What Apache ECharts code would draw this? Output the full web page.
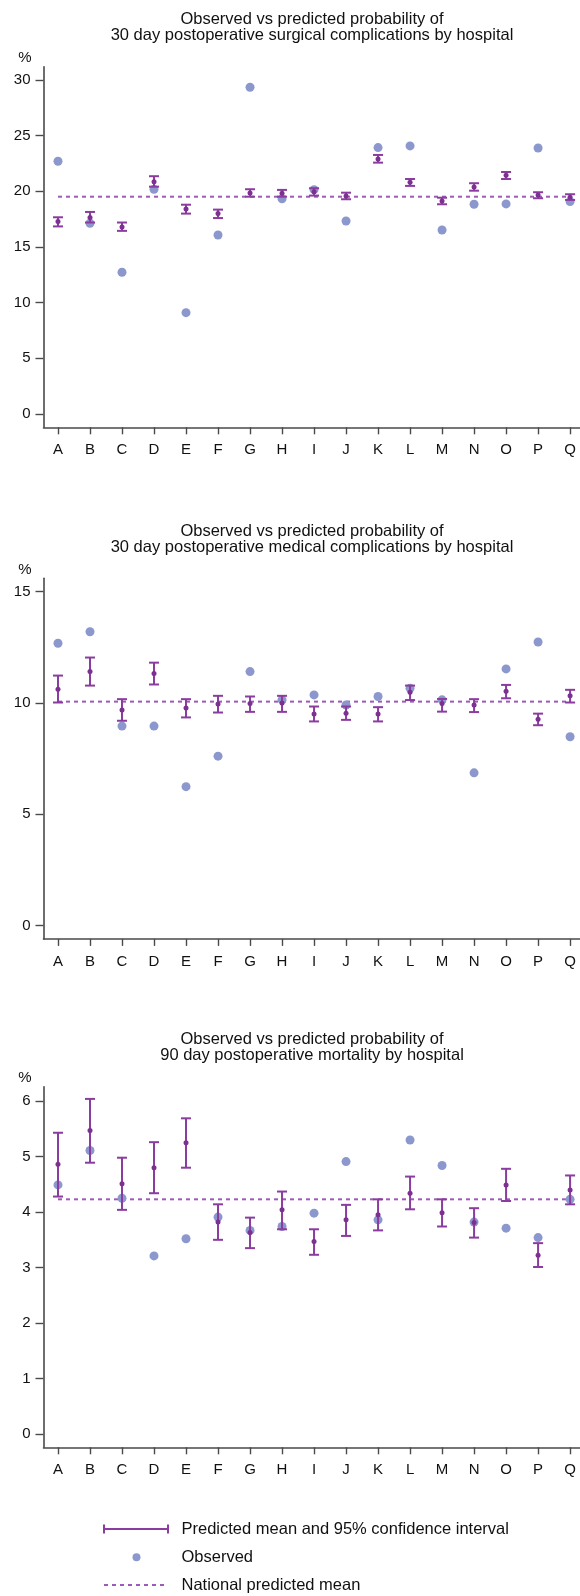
<!DOCTYPE html>
<html>
<head>
<meta charset="utf-8">
<script src="https://cdn.jsdelivr.net/npm/echarts@6/dist/echarts.min.js"></script>
<style>
html, body { margin: 0; padding: 0; background: #fff; }
#main { width: 580px; height: 1596px; }
</style>
</head>
<body>
<div id="main"></div>
<script>
// hospitals on the x axis
var hospitals = ['A', 'B', 'C', 'D', 'E', 'F', 'G', 'H', 'I', 'J', 'K', 'L', 'M', 'N', 'O', 'P', 'Q'];

// 30 day surgical complications (%)
var surgObserved  = [22.7, 17.13, 12.73, 20.19, 9.1, 16.08, 29.35, 19.34, 20.15, 17.34, 23.93, 24.08, 16.53, 18.84, 18.87, 23.9, 19.08];
var surgPredicted = [17.28, 17.65, 16.8, 20.87, 18.42, 18.0, 19.86, 19.83, 19.97, 19.59, 22.91, 20.82, 19.14, 20.4, 21.45, 19.68, 19.47];
var surgLower     = [16.85, 17.2, 16.45, 20.42, 18.0, 17.6, 19.52, 19.52, 19.62, 19.29, 22.58, 20.49, 18.84, 20.06, 21.11, 19.38, 19.23];
var surgUpper     = [17.67, 18.15, 17.2, 21.36, 18.8, 18.36, 20.19, 20.13, 20.28, 19.88, 23.27, 21.11, 19.43, 20.73, 21.74, 19.92, 19.74];
var surgNational  = 19.52;
var surgTicks     = [0, 5, 10, 15, 20, 25, 30];

// 30 day medical complications (%)
var medObserved  = [12.68, 13.2, 8.96, 8.96, 6.24, 7.61, 11.41, 10.14, 10.36, 9.91, 10.29, 10.66, 10.14, 6.86, 11.53, 12.74, 8.48];
var medPredicted = [10.62, 11.41, 9.68, 11.32, 9.77, 9.95, 9.97, 10.0, 9.5, 9.54, 9.5, 10.48, 9.97, 9.91, 10.53, 9.27, 10.32];
var medLower     = [10.02, 10.78, 9.2, 10.83, 9.35, 9.57, 9.6, 9.6, 9.17, 9.24, 9.17, 10.13, 9.61, 9.59, 10.21, 9.0, 10.02];
var medUpper     = [11.23, 12.04, 10.17, 11.81, 10.17, 10.32, 10.29, 10.32, 9.84, 9.84, 9.81, 10.78, 10.18, 10.17, 10.81, 9.52, 10.59];
var medNational  = 10.06;
var medTicks     = [0, 5, 10, 15];

// 90 day mortality (%)
var mortObserved  = [4.49, 5.11, 4.25, 3.21, 3.52, 3.91, 3.67, 3.74, 3.98, 4.91, 3.86, 5.3, 4.84, 3.82, 3.71, 3.54, 4.23];
var mortPredicted = [4.86, 5.47, 4.51, 4.8, 5.25, 3.82, 3.63, 4.04, 3.47, 3.86, 3.95, 4.34, 3.99, 3.81, 4.49, 3.22, 4.4];
var mortLower     = [4.28, 4.89, 4.04, 4.34, 4.8, 3.5, 3.35, 3.69, 3.23, 3.57, 3.67, 4.05, 3.74, 3.54, 4.2, 3.01, 4.14];
var mortUpper     = [5.43, 6.04, 4.98, 5.26, 5.69, 4.14, 3.9, 4.37, 3.69, 4.13, 4.23, 4.64, 4.23, 4.07, 4.78, 3.44, 4.66];
var mortNational  = 4.23;
var mortTicks     = [0, 1, 2, 3, 4, 5, 6];

var titles = [
  'Observed vs predicted probability of\n30 day postoperative surgical complications by hospital',
  'Observed vs predicted probability of\n30 day postoperative medical complications by hospital',
  'Observed vs predicted probability of\n90 day postoperative mortality by hospital'
];

var FONT = "'Liberation Sans', Arial, sans-serif";
var AXIS_COLOR = '#4a4a4a';
var CI_COLOR = '#8a3c9f';
var DOT_COLOR = '#7d2f92';
var OBS_COLOR = '#8c98cd';
var MEAN_COLOR = '#9d5ab6';

var positions = hospitals.map(function (h, i) { return i + 1; });

var panels = [
  { obs: surgObserved, pred: surgPredicted, lo: surgLower, hi: surgUpper, nat: surgNational, ticks: surgTicks, min: -1.2, max: 31.2, top: 66.7, titleTop: 11 },
  { obs: medObserved, pred: medPredicted, lo: medLower, hi: medUpper, nat: medNational, ticks: medTicks, min: -0.6, max: 15.6, top: 578.3, titleTop: 523 },
  { obs: mortObserved, pred: mortPredicted, lo: mortLower, hi: mortUpper, nat: mortNational, ticks: mortTicks, min: -0.24, max: 6.26, top: 1086.7, titleTop: 1031 }
];

function renderCI(params, api) {
  var x = api.value(0);
  var pLo = api.coord([x, api.value(1)]);
  var pHi = api.coord([x, api.value(2)]);
  var half = 5;
  var style = { stroke: CI_COLOR, lineWidth: 2 };
  return {
    type: 'group',
    children: [
      { type: 'line', shape: { x1: pHi[0], y1: pHi[1], x2: pLo[0], y2: pLo[1] }, style: style },
      { type: 'line', shape: { x1: pHi[0] - half, y1: pHi[1], x2: pHi[0] + half, y2: pHi[1] }, style: style },
      { type: 'line', shape: { x1: pLo[0] - half, y1: pLo[1], x2: pLo[0] + half, y2: pLo[1] }, style: style }
    ]
  };
}

var grids = [], xAxes = [], yAxes = [], series = [], titleOpts = [];

panels.forEach(function (p, i) {
  grids.push({ left: 43.5, right: 0, top: p.top, height: 360.6, outerBoundsMode: 'none', containLabel: false });
  titleOpts.push({
    text: titles[i], left: 312, top: p.titleTop, textAlign: 'center', padding: 0,
    textStyle: { fontFamily: FONT, fontSize: 16.5, fontWeight: 'normal', lineHeight: 16, color: '#111' }
  });
  xAxes.push({
    type: 'value', gridIndex: i, min: 0.547, max: 17.31,
    axisLine: { show: true, onZero: false, lineStyle: { color: AXIS_COLOR, width: 1.6 } },
    axisTick: { show: true, length: 7, customValues: positions, lineStyle: { color: AXIS_COLOR, width: 1.4 } },
    axisLabel: {
      customValues: positions, margin: 15, fontFamily: FONT, fontSize: 15, color: '#111',
      formatter: function (v) { return hospitals[Math.round(v) - 1]; }
    },
    splitLine: { show: false }
  });
  yAxes.push({
    type: 'value', gridIndex: i, min: p.min, max: p.max,
    name: '%', nameLocation: 'end', nameGap: 1,
    nameTextStyle: { fontFamily: FONT, fontSize: 15, color: '#111', align: 'center', padding: [0, 37, 0, 0] },
    axisLine: { show: true, onZero: false, lineStyle: { color: AXIS_COLOR, width: 1.6 } },
    axisTick: { show: true, length: 8, customValues: p.ticks, lineStyle: { color: AXIS_COLOR, width: 1.4 } },
    axisLabel: { customValues: p.ticks, margin: 13, fontFamily: FONT, fontSize: 15, color: '#111' },
    splitLine: { show: false }
  });
  series.push({
    name: 'National predicted mean', type: 'line', xAxisIndex: i, yAxisIndex: i,
    data: [[1, p.nat], [hospitals.length, p.nat]], symbol: 'none', z: 1,
    lineStyle: { color: MEAN_COLOR, width: 2, type: [4, 4] }
  });
  series.push({
    name: 'Observed', type: 'scatter', xAxisIndex: i, yAxisIndex: i, z: 2,
    symbolSize: 9, itemStyle: { color: OBS_COLOR, opacity: 1 },
    data: p.obs.map(function (v, k) { return [k + 1, v]; })
  });
  series.push({
    name: 'Predicted mean and 95% confidence interval', type: 'custom', xAxisIndex: i, yAxisIndex: i, z: 3,
    renderItem: renderCI,
    encode: { x: 0, y: [1, 2] },
    data: p.lo.map(function (v, k) { return [k + 1, v, p.hi[k]]; })
  });
  series.push({
    name: 'Predicted mean', type: 'scatter', xAxisIndex: i, yAxisIndex: i, z: 4,
    symbolSize: 5, itemStyle: { color: DOT_COLOR, opacity: 1 },
    data: p.pred.map(function (v, k) { return [k + 1, v]; })
  });
});

// legend drawn below the last panel
var legendText = { fontFamily: FONT, fontSize: 16.5, fill: '#111', verticalAlign: 'middle', align: 'left' };
var graphics = [
  { type: 'line', shape: { x1: 104, y1: 1529, x2: 168, y2: 1529 }, style: { stroke: CI_COLOR, lineWidth: 2 } },
  { type: 'line', shape: { x1: 104, y1: 1524.5, x2: 104, y2: 1533.5 }, style: { stroke: CI_COLOR, lineWidth: 2 } },
  { type: 'line', shape: { x1: 168, y1: 1524.5, x2: 168, y2: 1533.5 }, style: { stroke: CI_COLOR, lineWidth: 2 } },
  { type: 'text', x: 181.5, y: 1529, style: Object.assign({ text: 'Predicted mean and 95% confidence interval' }, legendText) },
  { type: 'circle', shape: { cx: 136.5, cy: 1557.3, r: 4 }, style: { fill: OBS_COLOR } },
  { type: 'text', x: 181.5, y: 1557, style: Object.assign({ text: 'Observed' }, legendText) },
  { type: 'line', shape: { x1: 104, y1: 1585, x2: 168, y2: 1585 }, style: { stroke: MEAN_COLOR, lineWidth: 2, lineDash: [4, 4] } },
  { type: 'text', x: 181.5, y: 1585, style: Object.assign({ text: 'National predicted mean' }, legendText) }
];

var chart = echarts.init(document.getElementById('main'), null, { renderer: 'canvas' });
chart.setOption({
  animation: false,
  backgroundColor: '#fff',
  title: titleOpts,
  grid: grids,
  xAxis: xAxes,
  yAxis: yAxes,
  series: series,
  graphic: graphics
});
</script>
</body>
</html>
